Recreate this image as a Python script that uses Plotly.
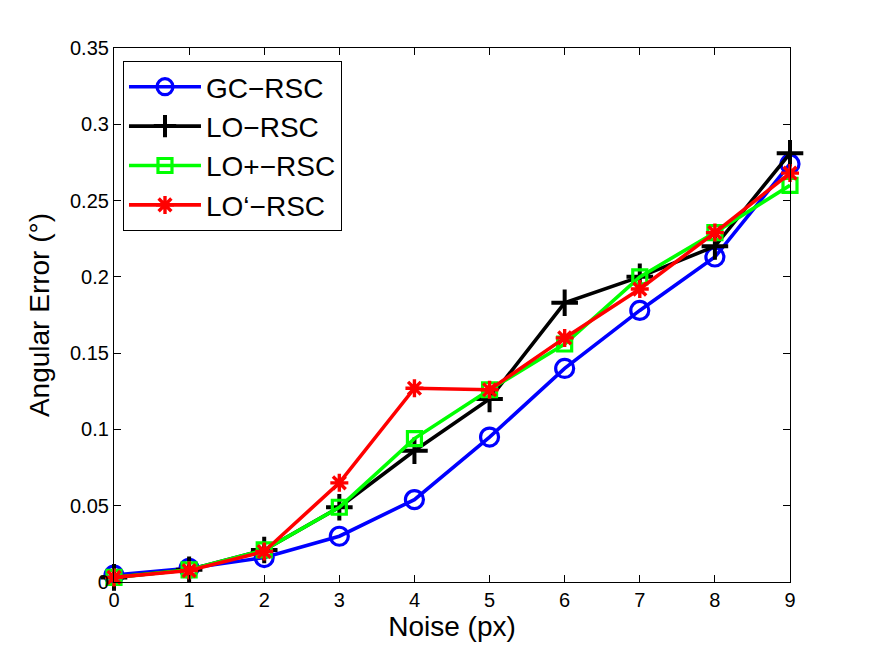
import plotly.graph_objects as go

noise = [0, 1, 2, 3, 4, 5, 6, 7, 8, 9]
gc_rsc = [0.0045, 0.009, 0.016, 0.030, 0.054, 0.095, 0.140, 0.178, 0.213, 0.274]
lo_rsc = [0.003, 0.008, 0.021, 0.049, 0.086, 0.120, 0.183, 0.200, 0.220, 0.281]
lop_rsc = [0.003, 0.008, 0.021, 0.049, 0.094, 0.126, 0.156, 0.200, 0.229, 0.260]
loq_rsc = [0.003, 0.0075, 0.020, 0.065, 0.127, 0.126, 0.160, 0.192, 0.229, 0.268]

y_ticks = [0, 0.05, 0.1, 0.15, 0.2, 0.25, 0.3, 0.35]
y_ticktext = ["0", "0.05", "0.1", "0.15", "0.2", "0.25", "0.3", "0.35"]
x_ticks = noise

series = [
    ("GC\u2212RSC", gc_rsc, "#0000FF", "circle-open", 18, 3.2),
    ("LO\u2212RSC", lo_rsc, "#000000", "cross-thin-open", 19, 4),
    ("LO+\u2212RSC", lop_rsc, "#00FF00", "square-open", 14, 3.2),
    ("LO\u2018\u2212RSC", loq_rsc, "#FF0000", "asterisk-open", 15, 3.4),
]

fig = go.Figure()
for name, vals, color, sym, size, lw in series:
    fig.add_trace(go.Scatter(
        x=noise, y=vals, name=name, mode="lines+markers",
        line=dict(color=color, width=3.6),
        marker=dict(symbol=sym, size=size, color=color,
                    line=dict(color=color, width=lw)),
        cliponaxis=False,
    ))

axis_common = dict(
    showline=True, linecolor="black", linewidth=1.2, mirror="ticks",
    ticks="inside", ticklen=7, tickcolor="black", tickwidth=1,
    showgrid=False, zeroline=False,
    tickfont=dict(family="Liberation Sans, Arial, sans-serif", size=20, color="black"),
)

fig.update_layout(
    width=875, height=657,
    margin=dict(l=114, r=85, t=48, b=75),
    paper_bgcolor="white", plot_bgcolor="white",
    font=dict(family="Liberation Sans, Arial, sans-serif", color="black"),
    xaxis=dict(range=[0, 9], tickvals=x_ticks,
               title=dict(text="Noise (px)", font=dict(size=28), standoff=4),
               **axis_common),
    yaxis=dict(range=[0, 0.35], tickvals=y_ticks, ticktext=y_ticktext,
               title=dict(text="Angular Error (\u00b0)", font=dict(size=28), standoff=12),
               **axis_common),
    legend=dict(x=0.013, y=0.976, xanchor="left", yanchor="top",
                bordercolor="black", borderwidth=1.2, bgcolor="white",
                font=dict(size=28, color="black"), itemwidth=72,
                tracegroupgap=0),
    showlegend=True,
)

fig.write_html("out.html")
